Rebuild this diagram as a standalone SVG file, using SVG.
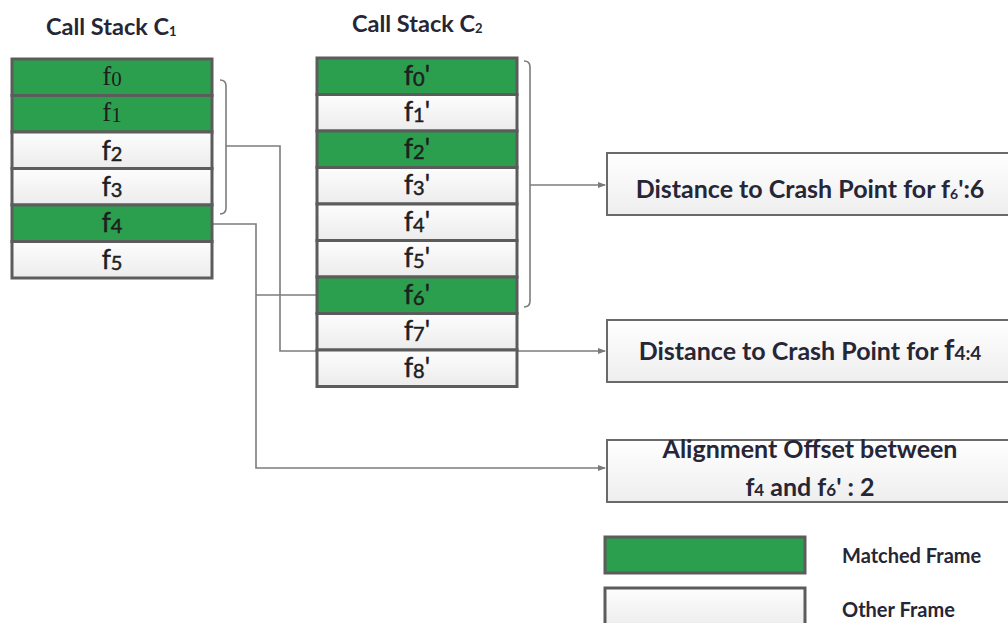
<svg xmlns="http://www.w3.org/2000/svg" width="1008" height="623" viewBox="0 0 1008 623">
  <defs>
    <linearGradient id="paleFill" x1="0" y1="0" x2="0" y2="1">
      <stop offset="0" stop-color="#fdfdfd"/>
      <stop offset="1" stop-color="#ececec"/>
    </linearGradient>
    <linearGradient id="boxFill" x1="0" y1="0" x2="0" y2="1">
      <stop offset="0" stop-color="#ffffff"/>
      <stop offset="1" stop-color="#eeeeee"/>
    </linearGradient>
    <marker id="arrow" markerWidth="8" markerHeight="6" refX="7" refY="3" orient="auto" markerUnits="userSpaceOnUse">
      <path d="M0,0 L8,3 L0,6 Z" fill="#7a7a7a"/>
    </marker>
  </defs>
  <style>
    .matched { fill: #2c9f4f; stroke: #5c5c5c; stroke-width: 3; }
    .other { fill: url(#paleFill); stroke: #5c5c5c; stroke-width: 3; }
    .result { fill: url(#boxFill); stroke: #6a6a6a; stroke-width: 2; }
    .wire { fill: none; stroke: #7c7c7c; stroke-width: 1.6; }
    .bracket { fill: none; stroke: #7c7c7c; stroke-width: 1.6; }
    .title { font-family: Lato, "Open Sans", sans-serif; font-weight: bold; font-size: 23.5px; fill: #262636; }
    .lbl { font-family: Lato, "Open Sans", sans-serif; font-size: 26px; fill: #1e1e1e; stroke: #1e1e1e; stroke-width: 0.5; text-anchor: middle; }
    .serif { font-family: "Liberation Serif", serif; font-size: 27px; fill: #1e1e1e; text-anchor: middle; }
    .bold { font-family: Lato, "Open Sans", sans-serif; font-weight: bold; font-size: 25px; fill: #262636; text-anchor: middle; }
    .legend { font-family: Lato, "Open Sans", sans-serif; font-weight: bold; font-size: 20px; fill: #262636; }
  </style>

  <rect width="1008" height="623" fill="#ffffff"/>

  <!-- stack titles -->
  <text class="title" x="46" y="35">Call Stack C<tspan font-size="13" dy="1">1</tspan></text>
  <text class="title" x="352" y="32">Call Stack C<tspan font-size="13" dy="1">2</tspan></text>

  <!-- connectors -->
  <g id="connectors">
    <path class="bracket" d="M220,80 Q226,80 226,86 V208 Q226,214 220,214"/>
    <path class="bracket" d="M524,61 Q530,61 530,67 V301 Q530,307 524,307"/>
    <path class="wire" d="M226,146 H280 V351 H605" marker-end="url(#arrow)"/>
    <path class="wire" d="M530,185 H605" marker-end="url(#arrow)"/>
    <path class="wire" d="M212,224 H256 V468 H605" marker-end="url(#arrow)"/>
    <path class="wire" d="M256,295 H316"/>
  </g>

  <!-- call stack C1 -->
  <g id="stack-c1">
    <rect class="matched" x="12" y="59" width="200" height="36.5"/>
    <rect class="matched" x="12" y="95.5" width="200" height="36.5"/>
    <rect class="other" x="12" y="132" width="200" height="36.5"/>
    <rect class="other" x="12" y="168.5" width="200" height="36.5"/>
    <rect class="matched" x="12" y="205" width="200" height="36.5"/>
    <rect class="other" x="12" y="241.5" width="200" height="36.5"/>
    <text class="serif" x="112" y="85">f<tspan font-size="21" dy="1">0</tspan></text>
    <text class="serif" x="112" y="121">f<tspan font-size="21" dy="1">1</tspan></text>
    <text class="lbl" x="112" y="160">f<tspan font-size="20" dy="1">2</tspan></text>
    <text class="lbl" x="112" y="196">f<tspan font-size="20" dy="1">3</tspan></text>
    <text class="lbl" x="112" y="232">f<tspan font-size="20" dy="1">4</tspan></text>
    <text class="lbl" x="112" y="269">f<tspan font-size="20" dy="1">5</tspan></text>
  </g>

  <!-- call stack C2 -->
  <g id="stack-c2">
    <rect class="matched" x="317" y="58" width="200" height="36.5"/>
    <rect class="other" x="317" y="94.5" width="200" height="36.5"/>
    <rect class="matched" x="317" y="131" width="200" height="36.5"/>
    <rect class="other" x="317" y="167.5" width="200" height="36.5"/>
    <rect class="other" x="317" y="204" width="200" height="36.5"/>
    <rect class="other" x="317" y="240.5" width="200" height="36.5"/>
    <rect class="matched" x="317" y="277" width="200" height="36.5"/>
    <rect class="other" x="317" y="313.5" width="200" height="36.5"/>
    <rect class="other" x="317" y="350" width="200" height="36.5"/>
    <text class="lbl" x="417" y="85">f<tspan font-size="20" dy="1">0</tspan><tspan dy="-1">'</tspan></text>
    <text class="lbl" x="417" y="121">f<tspan font-size="20" dy="1">1</tspan><tspan dy="-1">'</tspan></text>
    <text class="lbl" x="417" y="158">f<tspan font-size="20" dy="1">2</tspan><tspan dy="-1">'</tspan></text>
    <text class="lbl" x="417" y="194">f<tspan font-size="20" dy="1">3</tspan><tspan dy="-1">'</tspan></text>
    <text class="lbl" x="417" y="231">f<tspan font-size="20" dy="1">4</tspan><tspan dy="-1">'</tspan></text>
    <text class="lbl" x="417" y="267">f<tspan font-size="20" dy="1">5</tspan><tspan dy="-1">'</tspan></text>
    <text class="lbl" x="417" y="304">f<tspan font-size="20" dy="1">6</tspan><tspan dy="-1">'</tspan></text>
    <text class="lbl" x="417" y="340">f<tspan font-size="20" dy="1">7</tspan><tspan dy="-1">'</tspan></text>
    <text class="lbl" x="417" y="377">f<tspan font-size="20" dy="1">8</tspan><tspan dy="-1">'</tspan></text>
  </g>

  <!-- result boxes -->
  <g id="distance-f6">
    <rect class="result" x="607" y="153" width="410" height="62"/>
    <text class="bold" x="810" y="198">Distance to Crash Point for f<tspan font-size="14" dy="1">6</tspan><tspan dy="-1">':6</tspan></text>
  </g>
  <g id="distance-f4">
    <rect class="result" x="607" y="320" width="410" height="62"/>
    <text class="bold" x="810" y="360">Distance to Crash Point for <tspan font-size="29">f</tspan><tspan font-size="19">4:4</tspan></text>
  </g>
  <g id="alignment-offset">
    <rect class="result" x="607" y="440" width="410" height="62"/>
    <text class="bold" x="810" y="458">Alignment Offset between</text>
    <text class="bold" x="810" y="496">f<tspan font-size="17">4</tspan> and f<tspan font-size="17">6</tspan>' : 2</text>
  </g>

  <!-- legend -->
  <g id="legend-matched">
    <rect class="matched" x="605" y="537" width="200" height="36"/>
    <text class="legend" x="842" y="563">Matched Frame</text>
  </g>
  <g id="legend-other">
    <rect class="other" x="605" y="588" width="200" height="40"/>
    <text class="legend" x="842" y="617">Other Frame</text>
  </g>
</svg>
